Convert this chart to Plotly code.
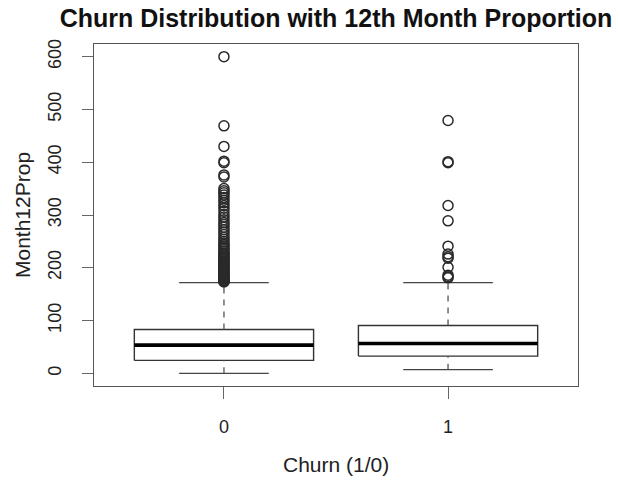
import plotly.graph_objects as go

# Five-number summaries of Month12Prop per churn group
groups = ["0", "1"]
lower_whisker = [0.0, 7.0]
q1 = [24.5, 32.7]
median = [53.5, 56.6]
q3 = [83.0, 90.6]
upper_whisker = [171.7, 171.7]

# Points beyond the upper whisker, per group
outliers_0 = [600, 469, 430, 402, 399, 376, 372, 350, 346, 342, 338, 333, 328,
              323, 318, 313, 307, 301, 296, 291, 286, 282, 277, 272, 268, 263,
              258, 254, 250, 246, 243, 240, 237, 234, 231, 228, 226, 224, 221,
              219, 217, 215, 213, 211, 209, 207, 205, 203, 201, 199, 197, 195,
              193, 191, 189, 187, 185, 183, 181, 179, 177, 176, 175, 174, 173]
outliers_1 = [479, 401, 399, 318, 289, 241, 226, 221, 218, 201, 186, 183, 181]
outliers = [outliers_0, outliers_1]

y_ticks = [0, 100, 200, 300, 400, 500, 600]

FONT = "Liberation Sans, Arial, Helvetica, sans-serif"
BOX_HALF = 0.4
STAPLE_HALF = 0.2

fig = go.Figure()

for i, name in enumerate(groups):
    c = i + 1
    # box body
    fig.add_trace(go.Scatter(
        x=[c - BOX_HALF, c + BOX_HALF, c + BOX_HALF, c - BOX_HALF, c - BOX_HALF],
        y=[q1[i], q1[i], q3[i], q3[i], q1[i]],
        mode="lines", line=dict(color="#333333", width=1.4),
        hoverinfo="skip", showlegend=False))
    # median
    fig.add_trace(go.Scatter(
        x=[c - BOX_HALF, c + BOX_HALF], y=[median[i], median[i]],
        mode="lines", line=dict(color="#000000", width=3.6),
        hoverinfo="skip", showlegend=False))
    # dashed whiskers
    for y0, y1 in [(q3[i], upper_whisker[i]), (lower_whisker[i], q1[i])]:
        fig.add_trace(go.Scatter(
            x=[c, c], y=[y0, y1], mode="lines",
            line=dict(color="#555555", width=1.3, dash="6px,6px"),
            hoverinfo="skip", showlegend=False))
    # staples
    for yv in [upper_whisker[i], lower_whisker[i]]:
        fig.add_trace(go.Scatter(
            x=[c - STAPLE_HALF, c + STAPLE_HALF], y=[yv, yv], mode="lines",
            line=dict(color="#444444", width=1.3),
            hoverinfo="skip", showlegend=False))
    # outliers
    fig.add_trace(go.Scatter(
        x=[c] * len(outliers[i]), y=outliers[i], mode="markers",
        marker=dict(symbol="circle-open", size=10, color="#2a2a2a",
                    line=dict(width=1.5, color="#2a2a2a")),
        name=name, showlegend=False))

fig.update_layout(
    width=620, height=484,
    margin=dict(l=94, r=42, t=44, b=98),
    paper_bgcolor="white", plot_bgcolor="white",
    font=dict(family=FONT, color="#222222", size=18),
    title=dict(text="<b>Churn Distribution with 12th Month Proportion</b>",
               font=dict(family=FONT, size=25, color="#111111"),
               x=0.5, xref="paper", xanchor="center",
               y=1 - 18.6 / 484, yref="container", yanchor="middle"),
    xaxis=dict(range=[0.42, 2.58], tickvals=[1, 2], ticktext=groups,
               showgrid=False, zeroline=False,
               showline=True, mirror=True, linecolor="#555555", linewidth=1.3,
               ticks="outside", ticklen=12, tickwidth=1.3, tickcolor="#666666",
               ticklabelstandoff=12,
               tickfont=dict(size=18, color="#222222")),
    yaxis=dict(range=[-24, 624], tickvals=y_ticks,
               showgrid=False, zeroline=False,
               showline=True, mirror=True, linecolor="#555555", linewidth=1.3,
               ticks="outside", ticklen=11, tickwidth=1.3, tickcolor="#666666",
               ticklabelstandoff=14,
               tickangle=-90, tickfont=dict(size=18, color="#222222")),
    annotations=[
        dict(text="Churn (1/0)", xref="paper", yref="paper", x=0.5,
             y=-(464 - 386) / 342, xanchor="center", yanchor="middle",
             showarrow=False, font=dict(size=21, color="#222222")),
        dict(text="Month12Prop", xref="paper", yref="paper",
             x=-(94 - 22) / 484, y=0.5, xanchor="center", yanchor="middle",
             textangle=-90, showarrow=False, font=dict(size=21, color="#222222")),
    ],
)

fig.write_html("out.html")
